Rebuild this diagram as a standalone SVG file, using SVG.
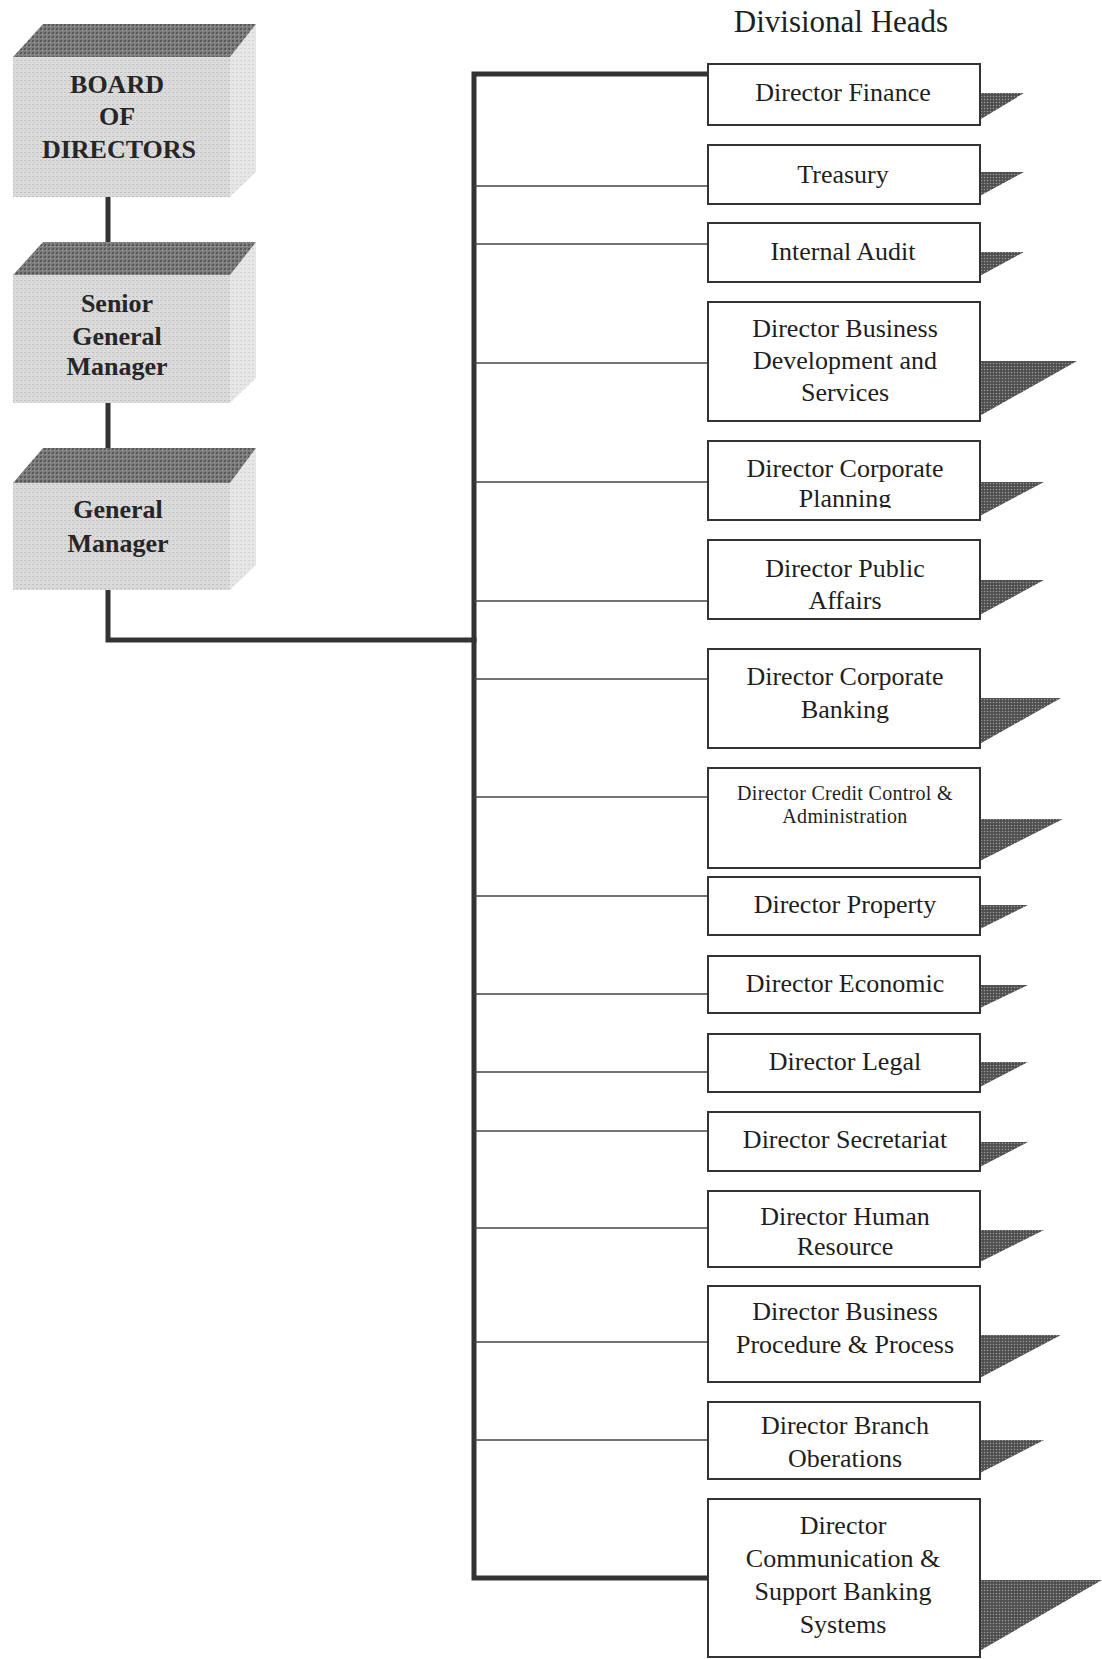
<svg xmlns="http://www.w3.org/2000/svg" width="1102" height="1659" viewBox="0 0 1102 1659">
<style>
.t{font-family:"Liberation Serif","Times New Roman",serif;font-size:26px;fill:#1e1e1e;text-anchor:middle}
.tb{font-family:"Liberation Serif","Times New Roman",serif;font-size:26px;font-weight:bold;fill:#262626;text-anchor:middle}
.box{fill:#fff;stroke:#333;stroke-width:2}
.sh{fill:url(#dk)}
.thick{stroke:#333;stroke-width:5;fill:none;stroke-linecap:square}
.thin{stroke:#444;stroke-width:1.6;fill:none}
.front{fill:url(#lt)}
.top{fill:url(#md)}
.side{fill:url(#sd)}
</style>
<defs>
<pattern id="dk" width="3" height="3" patternUnits="userSpaceOnUse">
<rect width="3" height="3" fill="#5a5a5a"/>
<rect width="1" height="1" fill="#9a9a9a"/>
<rect x="1.5" y="1.5" width="1" height="1" fill="#2e2e2e"/>
</pattern>
<pattern id="lt" width="4" height="4" patternUnits="userSpaceOnUse">
<rect width="4" height="4" fill="#dcdcdc"/>
<rect width="2" height="1" fill="#bdbdbd"/>
<rect x="2" y="2" width="1" height="1" fill="#c6c6c6"/>
</pattern>
<pattern id="sd" width="4" height="4" patternUnits="userSpaceOnUse">
<rect width="4" height="4" fill="#e6e6e6"/>
<rect width="2" height="1" fill="#d2d2d2"/>
</pattern>
<pattern id="md" width="4" height="4" patternUnits="userSpaceOnUse">
<rect width="4" height="4" fill="#7c7c7c"/>
<rect width="2" height="2" fill="#5a5a5a"/>
<rect x="2" y="2" width="1" height="1" fill="#a0a0a0"/>
</pattern>
<clipPath id="clipPlan"><rect x="700" y="440" width="290" height="68"/></clipPath>
</defs>

<rect width="1102" height="1659" fill="#fff"/>

<text class="t" x="841" y="32" style="font-size:31px">Divisional Heads</text>

<g id="connectors">
<polyline class="thick" points="108,197 108,242"/>
<polyline class="thick" points="108,403 108,448"/>
<polyline class="thick" points="108,590 108,640 474,640"/>
<polyline class="thick" points="708,74 474,74 474,1578 708,1578"/>
<line class="thin" x1="474" y1="186" x2="708" y2="186"/>
<line class="thin" x1="474" y1="244" x2="708" y2="244"/>
<line class="thin" x1="474" y1="363" x2="708" y2="363"/>
<line class="thin" x1="474" y1="482" x2="708" y2="482"/>
<line class="thin" x1="474" y1="601" x2="708" y2="601"/>
<line class="thin" x1="474" y1="679" x2="708" y2="679"/>
<line class="thin" x1="474" y1="797" x2="708" y2="797"/>
<line class="thin" x1="474" y1="896" x2="708" y2="896"/>
<line class="thin" x1="474" y1="994" x2="708" y2="994"/>
<line class="thin" x1="474" y1="1072" x2="708" y2="1072"/>
<line class="thin" x1="474" y1="1131" x2="708" y2="1131"/>
<line class="thin" x1="474" y1="1228" x2="708" y2="1228"/>
<line class="thin" x1="474" y1="1342" x2="708" y2="1342"/>
<line class="thin" x1="474" y1="1440" x2="708" y2="1440"/>
</g>

<g id="board">
<polygon class="side" points="230,57 256,24 256,172 230,197"/>
<polygon class="top" points="13,57 43,24 256,24 230,57"/>
<rect class="front" x="13" y="57" width="217" height="140"/>
<text class="tb" x="117" y="93">BOARD</text>
<text class="tb" x="117" y="125">OF</text>
<text class="tb" x="119" y="158">DIRECTORS</text>
</g>

<g id="senior">
<polygon class="side" points="230,275 256,242 256,378 230,403"/>
<polygon class="top" points="13,275 43,242 256,242 230,275"/>
<rect class="front" x="13" y="275" width="217" height="128"/>
<text class="tb" x="117" y="312">Senior</text>
<text class="tb" x="117" y="345">General</text>
<text class="tb" x="117" y="375">Manager</text>
</g>

<g id="gm">
<polygon class="side" points="230,483 256,448 256,565 230,590"/>
<polygon class="top" points="13,483 43,448 256,448 230,483"/>
<rect class="front" x="13" y="483" width="217" height="107"/>
<text class="tb" x="118" y="518">General</text>
<text class="tb" x="118" y="552">Manager</text>
</g>

<g id="d1"><polygon class="sh" points="976,93 1024,93 976,122"/><rect class="box" x="708" y="64" width="272" height="61"/><text class="t" x="843" y="101">Director Finance</text></g>
<g id="d2"><polygon class="sh" points="976,172 1024,172 976,198"/><rect class="box" x="708" y="145" width="272" height="59"/><text class="t" x="843" y="183">Treasury</text></g>
<g id="d3"><polygon class="sh" points="976,252 1024,252 976,278"/><rect class="box" x="708" y="223" width="272" height="59"/><text class="t" x="843" y="260">Internal Audit</text></g>
<g id="d4"><polygon class="sh" points="976,361 1077,361 976,418"/><rect class="box" x="708" y="302" width="272" height="119"/><text class="t" x="845" y="337">Director Business</text><text class="t" x="845" y="369">Development and</text><text class="t" x="845" y="401">Services</text></g>
<g id="d5"><polygon class="sh" points="976,482 1044,482 976,518"/><rect class="box" x="708" y="441" width="272" height="79"/><text class="t" x="845" y="477">Director Corporate</text><text class="t" x="845" y="507" clip-path="url(#clipPlan)">Planning</text></g>
<g id="d6"><polygon class="sh" points="976,580 1044,580 976,617"/><rect class="box" x="708" y="540" width="272" height="79"/><text class="t" x="845" y="577">Director Public</text><text class="t" x="845" y="609">Affairs</text></g>
<g id="d7"><polygon class="sh" points="976,698 1061,698 976,746"/><rect class="box" x="708" y="649" width="272" height="99"/><text class="t" x="845" y="685">Director Corporate</text><text class="t" x="845" y="718">Banking</text></g>
<g id="d8"><polygon class="sh" points="976,819 1063,819 976,863"/><rect class="box" x="708" y="768" width="272" height="100"/><text class="t" x="845" y="800" style="font-size:20px;letter-spacing:0.3px">Director Credit Control &amp;</text><text class="t" x="845" y="823" style="font-size:20px;letter-spacing:0.3px">Administration</text></g>
<g id="d9"><polygon class="sh" points="976,905 1028,905 976,931"/><rect class="box" x="708" y="877" width="272" height="58"/><text class="t" x="845" y="913">Director Property</text></g>
<g id="d10"><polygon class="sh" points="976,985 1028,985 976,1010"/><rect class="box" x="708" y="956" width="272" height="57"/><text class="t" x="845" y="992">Director Economic</text></g>
<g id="d11"><polygon class="sh" points="976,1062 1028,1062 976,1089"/><rect class="box" x="708" y="1034" width="272" height="58"/><text class="t" x="845" y="1070">Director Legal</text></g>
<g id="d12"><polygon class="sh" points="976,1142 1028,1142 976,1169"/><rect class="box" x="708" y="1112" width="272" height="59"/><text class="t" x="845" y="1148">Director Secretariat</text></g>
<g id="d13"><polygon class="sh" points="976,1230 1044,1230 976,1264"/><rect class="box" x="708" y="1191" width="272" height="76"/><text class="t" x="845" y="1225">Director Human</text><text class="t" x="845" y="1255">Resource</text></g>
<g id="d14"><polygon class="sh" points="976,1335 1061,1335 976,1380"/><rect class="box" x="708" y="1286" width="272" height="96"/><text class="t" x="845" y="1320">Director Business</text><text class="t" x="845" y="1353">Procedure &amp; Process</text></g>
<g id="d15"><polygon class="sh" points="976,1440 1044,1440 976,1475"/><rect class="box" x="708" y="1402" width="272" height="77"/><text class="t" x="845" y="1434">Director Branch</text><text class="t" x="845" y="1467">Oberations</text></g>
<g id="d16"><polygon class="sh" points="976,1580 1102,1580 976,1653"/><rect class="box" x="708" y="1499" width="272" height="158"/><text class="t" x="843" y="1534">Director</text><text class="t" x="843" y="1567">Communication &amp;</text><text class="t" x="843" y="1600">Support Banking</text><text class="t" x="843" y="1633">Systems</text></g>
</svg>
